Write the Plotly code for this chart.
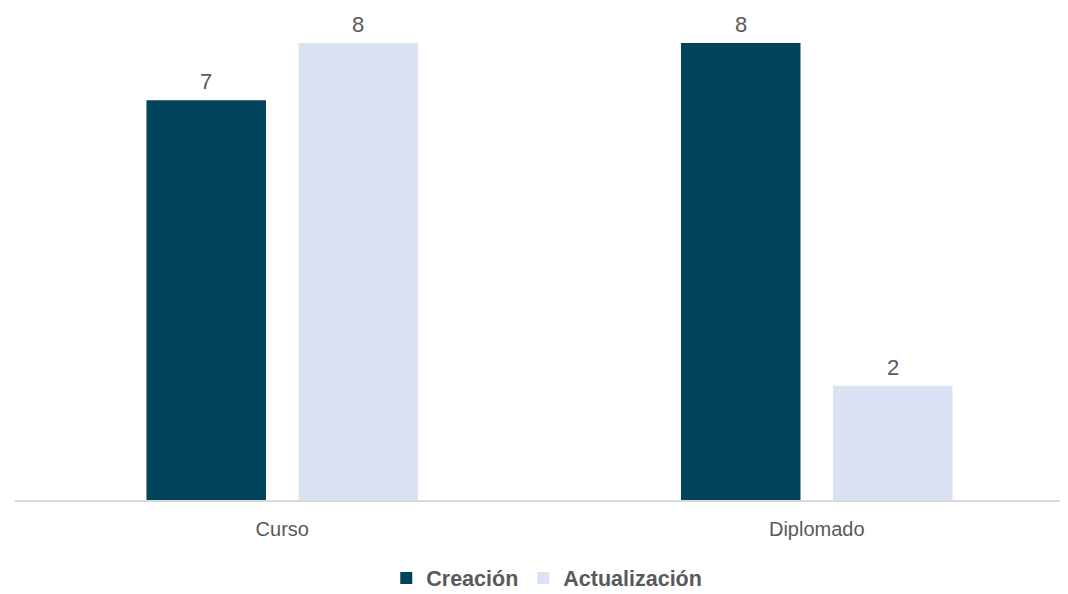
import plotly.graph_objects as go

categories = ["Curso", "Diplomado"]
creacion = [7, 8]
actualizacion = [8, 2]
series_names = ["Creación", "Actualización"]
colors = ["#02435C", "#DAE3F3"]

FONT = "Liberation Sans, Arial, sans-serif"
TXT = "#595959"

fig = go.Figure()
for name, vals, col in zip(series_names, [creacion, actualizacion], colors):
    fig.add_trace(go.Bar(x=categories, y=vals, name=name, marker=dict(color=col, line=dict(width=0)),
                         text=[str(v) for v in vals], textposition="none"))

# value labels above bars
offsets = [-0.1422, 0.1422]
for off, vals in zip(offsets, [creacion, actualizacion]):
    for i, v in enumerate(vals):
        fig.add_annotation(x=i + off, y=v, xref="x", yref="y", text=str(v), showarrow=False,
                           yanchor="bottom", yshift=5, borderpad=0,
                           font=dict(family=FONT, size=22, color=TXT))

fig.update_layout(
    width=1060, height=586,
    margin=dict(l=7, r=0, t=0, b=94, autoexpand=False),
    paper_bgcolor="white", plot_bgcolor="white",
    barmode="group", bargap=0.431, bargroupgap=0.214,
    font=dict(family=FONT, size=20, color=TXT),
    showlegend=True,
    legend=dict(orientation="h", x=0.505, xanchor="center", y=-0.2, yanchor="bottom",
                font=dict(family=FONT, size=21.5, color=TXT, weight="bold"),
                borderwidth=0, itemwidth=30, traceorder="normal"),
    xaxis=dict(type="category", range=[-0.5, 1.47], showgrid=False, showline=True,
               linecolor="#D9D9D9", linewidth=2, ticks="", ticklabelstandoff=10,
               tickfont=dict(family=FONT, size=20, color=TXT)),
    yaxis=dict(range=[0, 8.615], visible=False, showgrid=False, zeroline=False),
)

fig.write_html("out.html")
